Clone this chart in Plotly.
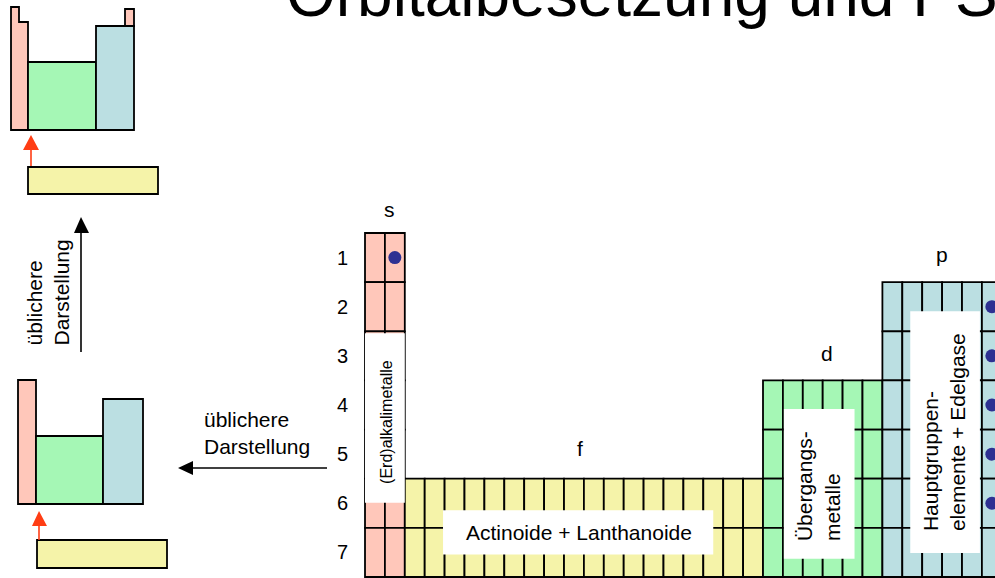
import plotly.graph_objects as go

# ---------------- data ----------------
title_text = "Orbitalbesetzung und PSE"
periods = [1, 2, 3, 4, 5, 6, 7]
block_names = ["s", "f", "d", "p"]
block_columns = [2, 18, 6, 6]
block_first_period = [1, 6, 4, 2]
block_labels = ["(Erd)alkalimetalle", "Actinoide + Lanthanoide",
                "Übergangs-<br>metalle", "Hauptgruppen-<br>elemente + Edelgase"]
noble_gas_periods = [1, 2, 3, 4, 5, 6]
caption = "üblichere<br>Darstellung"

# ---------------- styles / layout constants ----------------
FONT = "Liberation Sans, Arial, sans-serif"
W, H = 995, 578
X0, COL_W = 365.0, 19.9
Y0, ROW_H = 233.0, 49.14
block_colors = {"s": "#FFC7BA", "f": "#F5F3A9", "d": "#A5F7B5", "p": "#BBDFE2"}
label_dx = {"s": 5, "f": -4, "d": 4, "p": 0}
label_dy = {"s": -24, "f": -30, "d": -27, "p": -28}
# label boxes in grid units: (col0, col1, row0, row1), text angle, text offset (dx, dy)
label_boxes = {
    "s": ((0.0, 2.0, 2.04, 5.49), -90, (1, 4)),
    "f": ((3.92, 17.5, 5.64, 6.54), 0, (1, 0)),
    "d": ((21.05, 24.6, 3.58, 6.63), -90, (-1, 2)),
    "p": ((27.4, 30.9, 1.59, 6.51), -90, (-1, 0)),
}
DOT_COLOR = "#2E3192"
RED = "#FF3D14"

def gx(c):
    return X0 + c * COL_W

def gy(r):
    return Y0 + r * ROW_H

shapes = []
annotations = []

# block start columns
start_cols = []
acc = 0
for n in block_columns:
    start_cols.append(acc)
    acc += n

# cells
for name, ncol, c0, p0 in zip(block_names, block_columns, start_cols, block_first_period):
    for per in periods:
        if per < p0:
            continue
        for c in range(ncol):
            shapes.append(dict(type="rect", xref="x", yref="y", layer="below",
                               x0=gx(c0 + c), x1=gx(c0 + c + 1),
                               y0=gy(per - 1), y1=gy(per),
                               fillcolor=block_colors[name],
                               line=dict(color="black", width=1.8)))
    # block letter
    annotations.append(dict(x=gx(c0 + ncol / 2) + label_dx[name], y=gy(p0 - 1) + label_dy[name],
                            xref="x", yref="y", text=name, showarrow=False,
                            font=dict(family=FONT, size=21, color="black")))

# label boxes + texts
for name, label, c0 in zip(block_names, block_labels, start_cols):
    (a0, a1, r0, r1), ang, (tdx, tdy) = label_boxes[name]
    shapes.append(dict(type="rect", xref="x", yref="y", layer="below",
                       x0=gx(a0), x1=gx(a1), y0=gy(r0), y1=gy(r1),
                       fillcolor="white", line=dict(width=0)))
    fs = 16 if name == "s" else 21
    annotations.append(dict(x=(gx(a0) + gx(a1)) / 2 + tdx, y=(gy(r0) + gy(r1)) / 2 + tdy,
                            xref="x", yref="y", text=label, showarrow=False,
                            textangle=ang, align="left",
                            font=dict(family=FONT, size=fs, color="black")))

# period numbers
for per in periods:
    annotations.append(dict(x=342, y=gy(per - 0.5), xref="x", yref="y", text=str(per),
                            showarrow=False, font=dict(family=FONT, size=20, color="black")))

# noble gas dots
dot_x, dot_y = [], []
for per in noble_gas_periods:
    if per == 1:
        col = start_cols[0] + block_columns[0] - 1
    else:
        col = start_cols[3] + block_columns[3] - 1
    dot_x.append(gx(col + 0.5))
    dot_y.append(gy(per - 0.5))

# ---------------- schematic diagrams (left) ----------------
def rect(x0, y0, x1, y1, color):
    shapes.append(dict(type="rect", xref="x", yref="y", layer="below",
                       x0=x0, x1=x1, y0=y0, y1=y1, fillcolor=color,
                       line=dict(color="black", width=1.8)))

def path(pts, color, lw=0, lc="black"):
    d = "M " + " L ".join(f"{x},{y}" for x, y in pts) + " Z"
    shapes.append(dict(type="path", xref="x", yref="y", layer="below", path=d,
                       fillcolor=color, line=dict(color=lc, width=lw)))

def line(x0, y0, x1, y1, color, w=1.6):
    shapes.append(dict(type="line", xref="x", yref="y", layer="below",
                       x0=x0, x1=x1, y0=y0, y1=y1, line=dict(color=color, width=w)))

# top schematic
path([(11, 7), (19, 7), (19, 22), (28, 22), (28, 130), (11, 130)], block_colors["s"], 1.8)
rect(28, 62, 96, 130, block_colors["d"])
rect(96, 26, 134, 130, block_colors["p"])
rect(125, 9, 134, 26, block_colors["s"])
rect(28, 167, 158, 194, block_colors["f"])
line(31, 166, 31, 149, RED)
path([(31, 135), (23, 150), (39, 150)], RED)

# bottom schematic
rect(18, 380, 36, 504, block_colors["s"])
rect(36, 436, 103, 504, block_colors["d"])
rect(103, 399, 143, 504, block_colors["p"])
rect(37, 540, 167, 568, block_colors["f"])
line(39, 540, 39, 524, RED)
path([(39, 511), (32, 526), (47, 526)], RED)

# black arrows
line(81, 352, 81, 232, "black")
path([(81, 217), (74, 233), (89, 233)], "black")
line(327, 468, 192, 468, "black")
path([(178, 468), (193, 461), (193, 475)], "black")

annotations.append(dict(x=202, y=433, xref="x", yref="y", text=caption, showarrow=False,
                        xanchor="left", align="left",
                        font=dict(family=FONT, size=21, color="black")))
annotations.append(dict(x=47, y=292.5, xref="x", yref="y", text=caption, showarrow=False,
                        textangle=-90, align="left",
                        font=dict(family=FONT, size=21, color="black")))

# title
annotations.append(dict(x=284 / W, y=1 + 6.0 / H, xref="paper", yref="paper",
                        text=title_text, showarrow=False, xanchor="left", yanchor="middle",
                        font=dict(family=FONT, size=64, color="black")))

fig = go.Figure()
fig.add_trace(go.Scatter(x=dot_x, y=dot_y, mode="markers",
                         marker=dict(size=13, color=DOT_COLOR), hoverinfo="skip",
                         showlegend=False, cliponaxis=True))
fig.update_layout(
    width=W, height=H, margin=dict(l=0, r=0, t=0, b=0),
    paper_bgcolor="white", plot_bgcolor="white",
    xaxis=dict(range=[0, W], visible=False, fixedrange=True),
    yaxis=dict(range=[H, 0], visible=False, fixedrange=True),
    shapes=shapes, annotations=annotations, showlegend=False,
)
fig.write_html("out.html", config={"displayModeBar": False},
               post_script="document.body.style.margin='0';document.body.style.overflow='hidden';")
